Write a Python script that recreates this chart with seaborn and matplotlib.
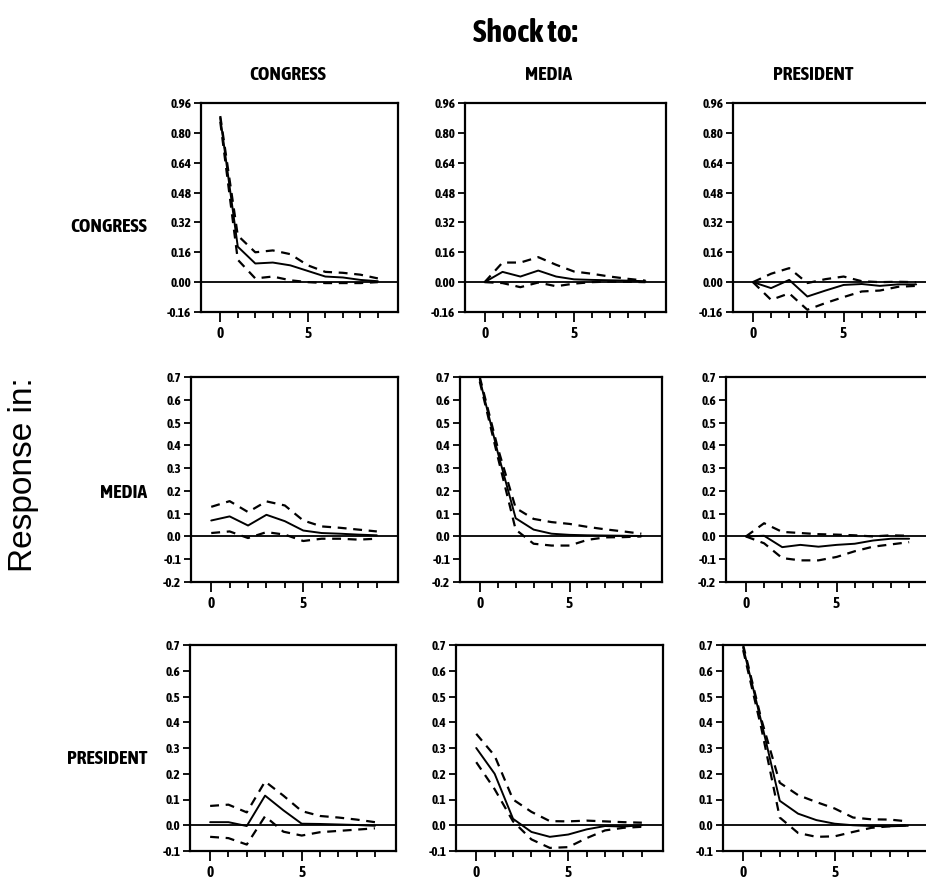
import numpy as np
import pandas as pd
import matplotlib
matplotlib.use('Agg')
import matplotlib.pyplot as plt
from matplotlib import font_manager
from matplotlib.ticker import FixedLocator
import seaborn as sns

# ---- data: impulse responses (response in ROW to shock in COLUMN), horizon 0..9 ----
VARS = ['CONGRESS', 'MEDIA', 'PRESIDENT']
horizon = list(range(10))

# response in CONGRESS
cc_mid = [0.88, 0.19, 0.10, 0.105, 0.09, 0.06, 0.03, 0.025, 0.012, 0.005]
cc_hi = [0.89, 0.25, 0.16, 0.17, 0.15, 0.09, 0.055, 0.05, 0.04, 0.02]
cc_lo = [0.86, 0.12, 0.02, 0.03, 0.01, 0.0, -0.005, -0.005, -0.005, 0.0]

cm_mid = [0.0, 0.055, 0.03, 0.062, 0.03, 0.015, 0.012, 0.01, 0.008, 0.005]
cm_hi = [0.0, 0.105, 0.105, 0.134, 0.093, 0.057, 0.045, 0.03, 0.018, 0.008]
cm_lo = [0.0, -0.005, -0.027, -0.002, -0.022, -0.008, 0.0, 0.003, 0.002, 0.0]

cp_mid = [0.0, -0.032, 0.012, -0.077, -0.045, -0.015, -0.01, -0.02, -0.012, -0.012]
cp_hi = [0.0, 0.045, 0.075, -0.005, 0.016, 0.03, 0.005, 0.0, 0.002, 0.0]
cp_lo = [0.0, -0.095, -0.06, -0.148, -0.112, -0.08, -0.05, -0.045, -0.025, -0.02]

# response in MEDIA
mc_mid = [0.07, 0.088, 0.048, 0.095, 0.067, 0.026, 0.015, 0.012, 0.008, 0.005]
mc_hi = [0.13, 0.155, 0.107, 0.154, 0.136, 0.07, 0.044, 0.038, 0.03, 0.022]
mc_lo = [0.015, 0.022, -0.007, 0.019, 0.008, -0.02, -0.01, -0.01, -0.014, -0.01]

mm_mid = [0.69, 0.37, 0.08, 0.03, 0.012, 0.007, 0.005, 0.004, 0.003, 0.002]
mm_hi = [0.70, 0.39, 0.125, 0.077, 0.063, 0.055, 0.042, 0.031, 0.022, 0.012]
mm_lo = [0.68, 0.35, 0.03, -0.032, -0.04, -0.04, -0.015, -0.004, -0.003, 0.0]

mp_mid = [0.0, 0.003, -0.047, -0.037, -0.045, -0.037, -0.032, -0.018, -0.01, -0.01]
mp_hi = [0.0, 0.058, 0.02, 0.015, 0.01, 0.008, 0.005, 0.0, 0.005, 0.003]
mp_lo = [0.0, -0.03, -0.095, -0.105, -0.105, -0.09, -0.065, -0.045, -0.035, -0.025]

# response in PRESIDENT
pc_mid = [0.012, 0.012, -0.003, 0.115, 0.058, 0.006, 0.005, 0.003, 0.001, -0.002]
pc_hi = [0.075, 0.08, 0.05, 0.17, 0.115, 0.055, 0.036, 0.03, 0.022, 0.012]
pc_lo = [-0.045, -0.05, -0.075, 0.035, -0.025, -0.04, -0.027, -0.022, -0.017, -0.012]

pm_mid = [0.30, 0.20, 0.025, -0.026, -0.045, -0.036, -0.016, -0.003, -0.005, 0.0]
pm_hi = [0.355, 0.27, 0.10, 0.052, 0.016, 0.015, 0.018, 0.015, 0.012, 0.01]
pm_lo = [0.245, 0.14, 0.015, -0.055, -0.088, -0.085, -0.05, -0.02, -0.01, -0.006]

pp_mid = [0.69, 0.40, 0.095, 0.045, 0.02, 0.006, 0.0, -0.003, -0.004, -0.002]
pp_hi = [0.70, 0.41, 0.165, 0.117, 0.09, 0.065, 0.03, 0.023, 0.022, 0.015]
pp_lo = [0.68, 0.375, 0.03, -0.03, -0.045, -0.043, -0.026, -0.01, -0.004, 0.0]

panels = {
    ('CONGRESS', 'CONGRESS'): (cc_mid, cc_lo, cc_hi),
    ('CONGRESS', 'MEDIA'): (cm_mid, cm_lo, cm_hi),
    ('CONGRESS', 'PRESIDENT'): (cp_mid, cp_lo, cp_hi),
    ('MEDIA', 'CONGRESS'): (mc_mid, mc_lo, mc_hi),
    ('MEDIA', 'MEDIA'): (mm_mid, mm_lo, mm_hi),
    ('MEDIA', 'PRESIDENT'): (mp_mid, mp_lo, mp_hi),
    ('PRESIDENT', 'CONGRESS'): (pc_mid, pc_lo, pc_hi),
    ('PRESIDENT', 'MEDIA'): (pm_mid, pm_lo, pm_hi),
    ('PRESIDENT', 'PRESIDENT'): (pp_mid, pp_lo, pp_hi),
}

row_yticks = [
    [-0.16, 0.0, 0.16, 0.32, 0.48, 0.64, 0.80, 0.96],
    [-0.2, -0.1, 0.0, 0.1, 0.2, 0.3, 0.4, 0.5, 0.6, 0.7],
    [-0.1, 0.0, 0.1, 0.2, 0.3, 0.4, 0.5, 0.6, 0.7],
]
row_fmt = ['{:.2f}', '{:.1f}', '{:.1f}']

# ---- layout (pixels of the 926x881 scan) ----
W, H = 926, 881
row_top = [103, 377, 645]
row_bot = [312, 582, 851]
col_lr = [
    [(201, 398), (465, 666), (733, 937)],
    [(191, 398), (460, 662), (726, 930)],
    [(190, 396), (456, 663), (723, 929)],
]

sns.set_style('white')


def is_bold(f):
    w = f.weight
    if isinstance(w, str):
        return 'bold' in w.lower() or 'black' in w.lower() or 'heavy' in w.lower()
    return w >= 600


# the scan uses a narrow upright bold face; use a condensed family if one is installed
narrow = sorted({f.name for f in font_manager.fontManager.ttflist
                 if ('Narrow' in f.name or 'Condensed' in f.name
                     or 'condensed' in str(f.stretch))
                 and is_bold(f) and f.style == 'normal'})
plt.rcParams['font.family'] = narrow + ['Liberation Sans', 'DejaVu Sans']
plt.rcParams['font.stretch'] = 'condensed'
plt.rcParams['font.weight'] = 'bold'
plt.rcParams['font.style'] = 'normal'
for key in ['text.color', 'axes.labelcolor', 'xtick.color', 'ytick.color']:
    plt.rcParams[key] = 'black'

fig = plt.figure(figsize=(W / 100, H / 100), dpi=100)

for r, resp in enumerate(VARS):
    for c, shock in enumerate(VARS):
        l, rt = col_lr[r][c]
        ax = fig.add_axes([l / W, 1 - row_bot[r] / H, (rt - l) / W,
                           (row_bot[r] - row_top[r]) / H])
        mid, lo, hi = panels[(resp, shock)]
        df = pd.DataFrame({'h': horizon, 'mid': mid, 'lo': lo, 'hi': hi})

        ax.axhline(0, color='black', lw=1.3, zorder=1)
        sns.lineplot(data=df, x='h', y='mid', ax=ax, color='black', lw=1.4)
        for col in ['lo', 'hi']:
            sns.lineplot(data=df, x='h', y=col, ax=ax, color='black', lw=1.6,
                         linestyle=(0, (4, 3)))

        yt = row_yticks[r]
        ax.set_ylim(yt[0], yt[-1])
        ax.set_xlim(-1.1, 10.15)
        ax.set_yticks(yt)
        ax.set_yticklabels([row_fmt[r].format(v) for v in yt])
        ax.set_xticks([0, 5])
        ax.set_xticklabels(['0', '5'])
        ax.xaxis.set_minor_locator(FixedLocator([1, 2, 3, 4, 6, 7, 8, 9]))
        ax.set_xlabel('')
        ax.set_ylabel('')
        ax.tick_params(axis='y', which='major', direction='out', length=5,
                       width=1.3, labelsize=9.5, pad=2, left=True)
        ax.tick_params(axis='x', which='major', direction='out', length=7,
                       width=1.3, labelsize=11, pad=4, bottom=True)
        ax.tick_params(axis='x', which='minor', direction='out', length=4,
                       width=1.3, bottom=True)
        for s in ax.spines.values():
            s.set_color('black')
            s.set_linewidth(1.6)

# column headers and row labels
fig.text(525 / W, 1 - 34 / H, 'Shock to:', ha='center', va='center',
         fontsize=23, fontweight='bold')
for c, name in enumerate(VARS):
    cx = [288, 548, 813][c]
    fig.text(cx / W, 1 - 75 / H, name, ha='center', va='center',
             fontsize=14, fontweight='bold')
for name, ypx in zip(VARS, [227, 493, 759]):
    fig.text(147 / W, 1 - ypx / H, name, ha='right', va='center',
             fontsize=14, fontweight='bold')
fig.text(24 / W, 1 - 475 / H, 'Response in:', ha='center', va='center',
         rotation=90, fontsize=24, fontweight='normal', fontstretch='normal',
         style='normal', family=['Liberation Sans', 'DejaVu Sans'])

fig.savefig('out.png', dpi=100)
